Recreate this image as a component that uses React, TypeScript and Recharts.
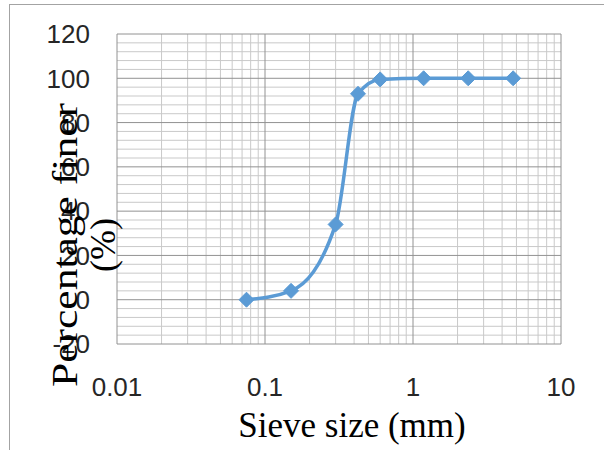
import { LineChart, Line, XAxis, YAxis, ReferenceLine } from "recharts";

// sieve analysis (mm vs % passing)
const sieveSizes = [0.075, 0.15, 0.3, 0.425, 0.6, 1.18, 2.36, 4.75];
const percentFiner = [0, 4, 34, 93, 99.5, 100, 100, 100];

const xTicks = [0.01, 0.1, 1, 10];
const yTicks = [-20, 0, 20, 40, 60, 80, 100, 120];

// log minor grid lines
const xMinor = [
  0.02, 0.03, 0.04, 0.05, 0.06, 0.07, 0.08, 0.09,
  0.2, 0.3, 0.4, 0.5, 0.6, 0.7, 0.8, 0.9,
  2, 3, 4, 5, 6, 7, 8, 9,
];
const yMinor: number[] = [];
for (let v = -20; v <= 120; v += 4) if (v % 20 !== 0) yMinor.push(v);

const BLUE = "#5B9BD5";
const MAJOR = "#929292";
const MINOR = "#c9c9c9";

const data = sieveSizes.map((size, i) => ({ size, finer: percentFiner[i] }));

function Diamond(props: any) {
  const { cx, cy } = props;
  if (cx == null || cy == null) return null;
  const r = 7.5;
  return (
    <path
      d={`M${cx},${cy - r}L${cx + r},${cy}L${cx},${cy + r}L${cx - r},${cy}Z`}
      fill={BLUE}
      stroke={BLUE}
      strokeWidth={1}
    />
  );
}

function YTitle() {
  return (
    <g fontFamily="'Liberation Serif', 'Times New Roman', serif" fill="#000">
      <text
        x={77}
        y={245}
        transform="rotate(-90 77 245)"
        textAnchor="middle"
        fontSize={36}
        textLength={284}
        lengthAdjust="spacingAndGlyphs"
      >
        Percentage finer
      </text>
      <text x={115} y={245} transform="rotate(-90 115 245)" textAnchor="middle" fontSize={36}>
        (%)
      </text>
    </g>
  );
}

const fmt = (v: number) => (v < 1 ? String(v) : v.toFixed(0));

export default function App() {
  return (
    <div style={{ position: "fixed", left: 0, top: 0, width: 604, height: 450, overflow: "hidden", background: "#fff" }}>
      <div
        style={{
          position: "absolute",
          left: 9,
          top: 4,
          width: 700,
          height: 600,
          border: "1px solid #a3a3a3",
        }}
      />
      <div style={{ position: "absolute", left: 0, top: 0 }}>
        <LineChart width={604} height={450} data={data} margin={{ top: 34, right: 43, bottom: 66, left: 57 }}>
          <XAxis
            dataKey="size"
            type="number"
            scale="log"
            domain={[0.01, 10]}
            ticks={xTicks}
            allowDataOverflow
            tickFormatter={fmt}
            axisLine={false}
            tickLine={false}
            tickSize={0}
            tickMargin={34}
            height={40}
            tick={{ fill: "#262626", fontSize: 26, fontFamily: "'Liberation Sans', Arial, sans-serif" }}
          />
          <YAxis
            type="number"
            domain={[-20, 120]}
            ticks={yTicks}
            allowDataOverflow
            axisLine={false}
            tickLine={false}
            tickSize={0}
            tickMargin={27}
            width={60}
            tick={{ fill: "#262626", fontSize: 26, fontFamily: "'Liberation Sans', Arial, sans-serif" }}
          />
          {yMinor.map((v) => (
            <ReferenceLine key={`ym${v}`} y={v} stroke={MINOR} strokeWidth={1} />
          ))}
          {xMinor.map((v) => (
            <ReferenceLine key={`xm${v}`} x={v} stroke={MINOR} strokeWidth={1} />
          ))}
          {yTicks.map((v) => (
            <ReferenceLine key={`yM${v}`} y={v} stroke={MAJOR} strokeWidth={1} />
          ))}
          {xTicks.map((v) => (
            <ReferenceLine key={`xM${v}`} x={v} stroke={MAJOR} strokeWidth={1} />
          ))}
          <Line
            dataKey="finer"
            type="monotoneX"
            stroke={BLUE}
            strokeWidth={3.5}
            dot={<Diamond />}
            activeDot={false}
            isAnimationActive={false}
          />
        </LineChart>
      </div>
      <svg width={604} height={450} style={{ position: "absolute", left: 0, top: 0, pointerEvents: "none" }}>
        <YTitle />
        <text
          x={352}
          y={437}
          textAnchor="middle"
          fontSize={35}
          fontFamily="'Liberation Serif', 'Times New Roman', serif"
          fill="#000"
        >
          Sieve size (mm)
        </text>
      </svg>
    </div>
  );
}
